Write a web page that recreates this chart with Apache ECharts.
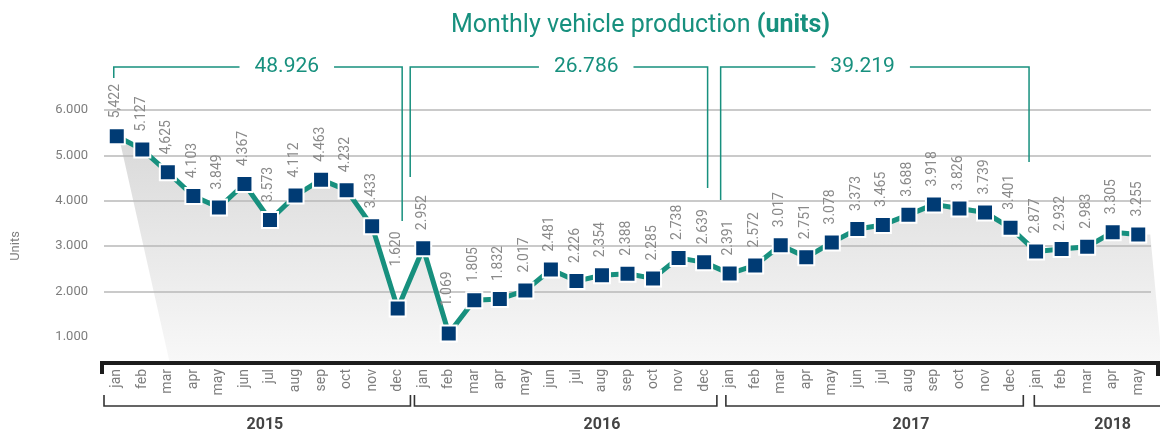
<!DOCTYPE html>
<html>
<head>
<meta charset="utf-8">
<title>Monthly vehicle production</title>
<script src="https://cdn.jsdelivr.net/npm/echarts@6/dist/echarts.min.js"></script>
<style>
  html, body { margin: 0; padding: 0; background: #fff; }
  #chart { width: 1160px; height: 437px; }
</style>
</head>
<body>
<div id="chart"></div>
<script>
// data
const monthNames = ['jan', 'feb', 'mar', 'apr', 'may', 'jun', 'jul', 'aug', 'sep', 'oct', 'nov', 'dec']
const years = ['2015', '2016', '2017', '2018']
const monthsPerYear = [12, 12, 12, 5]
const months = years.flatMap((y, k) => monthNames.slice(0, monthsPerYear[k]))

const production = [
  5422, 5127, 4625, 4103, 3849, 4367, 3573, 4112, 4463, 4232, 3433, 1620,
  2952, 1069, 1805, 1832, 2017, 2481, 2226, 2354, 2388, 2285, 2738, 2639,
  2391, 2572, 3017, 2751, 3078, 3373, 3465, 3688, 3918, 3826, 3739, 3401,
  2877, 2932, 2983, 3305, 3255
]
// labels as printed on the original (mixed separators)
const valueLabels = [
  '5,422', '5.127', '4,625', '4.103', '3.849', '4.367', '3.573', '4.112', '4.463', '4.232', '3.433', '1.620',
  '2.952', '1.069', '1.805', '1.832', '2.017', '2.481', '2.226', '2.354', '2.388', '2.285', '2.738', '2.639',
  '2.391', '2.572', '3.017', '2.751', '3.078', '3.373', '3.465', '3.688', '3.918', '3.826', '3.739', '3.401',
  '2.877', '2.932', '2.983', '3.305', '3.255'
]
const yTicks = [0, 1000, 2000, 3000, 4000, 5000, 6000]

const TEAL = '#17907e'
const NAVY = '#003b74'
const GREY_TEXT = '#7d7d7d'
const FONT = 'Roboto, "Liberation Sans", sans-serif'
const AXIS_OFFSET = -19
const SYMBOL = 16

const fmt = v => String(v).replace(/\B(?=(\d{3})+(?!\d))/g, '.')

// a couple of labels sit higher in the original
const labelLift = { 11: 24, 13: 9 }

const chart = echarts.init(document.getElementById('chart'))

const option = {
  animation: false,
  textStyle: { fontFamily: FONT },
  title: {
    text: '{a|Monthly vehicle production }{b|(units)}',
    left: 446,
    top: 8,
    textStyle: {
      rich: {
        a: { fontSize: 25, color: TEAL, fontWeight: 'normal', fontFamily: FONT },
        b: { fontSize: 25, color: TEAL, fontWeight: 'bold', fontFamily: FONT }
      }
    }
  },
  grid: { left: 104, right: 9, top: 110, bottom: 55 },
  xAxis: {
    type: 'category',
    data: months,
    boundaryGap: true,
    offset: AXIS_OFFSET,
    axisLine: { show: false, onZero: false },
    axisTick: { show: false },
    axisLabel: {
      interval: 0,
      rotate: 90,
      margin: 6,
      color: GREY_TEXT,
      fontSize: 14
    }
  },
  yAxis: {
    type: 'value',
    min: yTicks[0],
    max: yTicks[yTicks.length - 1],
    interval: 1000,
    name: 'Units',
    nameLocation: 'middle',
    nameGap: 82,
    nameTextStyle: { color: GREY_TEXT, fontSize: 13 },
    axisLine: { show: false },
    axisTick: { show: false },
    axisLabel: {
      margin: 16,
      color: GREY_TEXT,
      fontSize: 13,
      formatter: v => (v === 0 ? '' : fmt(v))
    },
    splitLine: {
      lineStyle: {
        color: ['rgba(0,0,0,0)', 'rgba(0,0,0,0)', '#b8b8b8', '#b8b8b8', '#b8b8b8', '#b8b8b8', '#b8b8b8'],
        width: 1.5
      }
    }
  },
  series: [
    {
      // grey skewed backdrop under the line
      type: 'custom',
      coordinateSystem: 'cartesian2d',
      silent: true,
      clip: false,
      z: -1,
      data: [[0, production[0]]],
      renderItem: (params, api) => {
        const pts = production.map((v, i) => api.coord([i, v]))
        const floor = api.coord([0, 0])[1] + AXIS_OFFSET
        const first = pts[0]
        const last = pts[pts.length - 1]
        const points = [
          [first[0] + 2, first[1]],
          ...pts,
          [last[0] + 12, last[1]],
          [last[0] + 24, floor],
          [first[0] + 53, floor]
        ]
        return {
          type: 'polygon',
          shape: { points },
          style: {
            fill: {
              type: 'linear', x: 0, y: 0, x2: 0, y2: 1,
              colorStops: [
                { offset: 0, color: '#d9d9d9' },
                { offset: 1, color: '#f8f8f8' }
              ]
            }
          }
        }
      }
    },
    {
      type: 'line',
      z: 3,
      symbol: 'rect',
      symbolSize: SYMBOL,
      lineStyle: { color: TEAL, width: 5 },
      itemStyle: { color: NAVY, borderColor: '#fff', borderWidth: 2 },
      emphasis: { disabled: true },
      label: {
        show: true,
        rotate: 90,
        align: 'left',
        verticalAlign: 'middle',
        color: '#8a8a8a',
        fontSize: 14,
        formatter: p => valueLabels[p.dataIndex]
      },
      data: production.map((v, i) => ({
        value: v,
        label: { position: [SYMBOL / 2, -9 - (labelLift[i] || 0)] }
      }))
    }
  ]
}

chart.setOption(option)

// brackets, axis line, year groups
function drawDecorations() {
  const px = i => chart.convertToPixel({ gridIndex: 0 }, [i, 0])[0]
  const band = px(1) - px(0)
  const axisY = chart.convertToPixel({ gridIndex: 0 }, [0, 0])[1] + AXIS_OFFSET
  const lastX = px(production.length - 1)
  const g = []

  // thick black axis with end ticks
  g.push({
    type: 'polyline',
    silent: true,
    shape: { points: [[px(0) - band / 2 - 2, axisY + 11], [px(0) - band / 2 - 2, axisY], [lastX + band / 2 + 7, axisY], [lastX + band / 2 + 7, axisY + 13]] },
    style: { stroke: '#1c1c1c', lineWidth: 4, fill: null }
  })

  // yearly totals brackets on top
  const topY = 67
  const tops = [
    { l: -3, r: 4.5, dropL: 11, dropR: 154, tx: 170 },
    { l: -13, r: 3.5, dropL: 110, dropR: 121, tx: 163 },
    { l: -9, r: 18.5, dropL: 133, dropR: 95, tx: 133 }
  ]
  let start = 0
  tops.forEach((b, k) => {
    const end = start + monthsPerYear[k] - 1
    const total = production.slice(start, end + 1).reduce((a, c) => a + c, 0)
    const x0 = px(start) + b.l
    const x1 = px(end) + b.r
    g.push({
      type: 'polyline', silent: true,
      shape: { points: [[x0, topY + b.dropL], [x0, topY], [x1, topY], [x1, topY + b.dropR]] },
      style: { stroke: TEAL, lineWidth: 1.5, fill: null }
    })
    g.push({
      type: 'text', silent: true, z: 10,
      x: px(start) + b.tx, y: topY,
      style: {
        text: fmt(total), fill: TEAL, fontSize: 21, fontFamily: FONT,
        align: 'center', verticalAlign: 'middle',
        backgroundColor: '#fff', padding: [0, 15]
      }
    })
    start = end + 1
  })

  // year groups under the month labels
  const yearLineY = 406
  const yearLabelAt = [5.8, 19, 31.1, 39]
  const yearGaps = [0, 4, 9, 11]
  start = 0
  years.forEach((yr, k) => {
    const end = start + monthsPerYear[k] - 1
    const x0 = px(start) - band / 2 + yearGaps[k]
    const x1 = k === years.length - 1 ? lastX + band / 2 + 12 : px(end) + band / 2
    g.push({
      type: 'polyline', silent: true,
      shape: { points: [[x0, yearLineY - 11], [x0, yearLineY], [x1, yearLineY], [x1, yearLineY - 11]] },
      style: { stroke: '#333', lineWidth: 1.6, fill: null }
    })
    g.push({
      type: 'text', silent: true,
      x: px(0) + yearLabelAt[k] * band, y: 425,
      style: {
        text: yr, fill: '#444', fontSize: 16, fontWeight: 'bold',
        fontFamily: '"Liberation Sans Narrow", Roboto, sans-serif',
        align: 'center', verticalAlign: 'middle'
      }
    })
    start = end + 1
  })

  chart.setOption({ graphic: g })
}

drawDecorations()
</script>
</body>
</html>
